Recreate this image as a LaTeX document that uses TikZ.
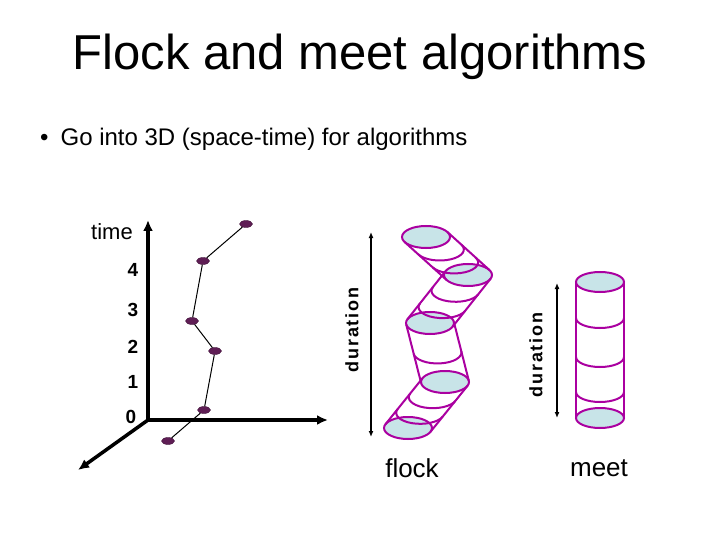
\documentclass[tikz,border=0pt]{standalone}
\usepackage{fontspec}
\setmainfont{Liberation Sans}
\usetikzlibrary{arrows.meta,shapes.geometric,calc}
\definecolor{mag}{RGB}{170,0,160}
\definecolor{capc}{RGB}{200,228,232}
\definecolor{dotc}{RGB}{95,30,85}
\begin{document}
\begin{tikzpicture}[x=1pt,y=-1pt,
  ax/.style={line width=3.5pt,-{Latex[length=11pt,width=10pt]}},
  traj/.style={line width=1pt},
  dot/.style={ellipse,fill=dotc,draw=dotc!70!black,minimum width=13pt,minimum height=7pt,inner sep=0pt},
  tube/.style={draw=mag,line width=2pt},
  capfill/.style={draw=mag,line width=2pt,fill=capc},
  num/.style={font=\fontsize{19}{19}\selectfont\bfseries},
  dur/.style={font=\fontsize{18}{18}\selectfont\bfseries\addfontfeatures{LetterSpace=10},rotate=90},
  darr/.style={line width=1.3pt,{Latex[length=6pt,width=5pt]}-{Latex[length=6pt,width=5pt]}}]
\useasboundingbox (0,0) rectangle (720,540);
\node (title) at (360,57) {\fontsize{49}{49}\selectfont Flock and meet algorithms};
\node[anchor=west,inner sep=0pt] (bullet) at (40,139) {\fontsize{24}{24}\selectfont •\hspace{12pt}Go into 3D (space-time) for algorithms};
% axes
\coordinate (o) at (148,420);
\coordinate (ty) at (148,220);
\coordinate (tx) at (328,420);
\coordinate (tz) at (78,470);
\draw[ax] (o) -- (ty);
\draw[ax] (o) -- (tx);
\draw[ax] (o) -- (tz);
\node (time) at (112,232) {\fontsize{22}{22}\selectfont time};
\node[num] (n4) at (133,270) {4};
\node[num] (n3) at (133,310) {3};
\node[num] (n2) at (133,347) {2};
\node[num] (n1) at (133,382) {1};
\node[num] (n0) at (131,417) {0};
% trajectory
\node[dot] (p5) at (246,224) {};
\node[dot] (p4) at (203,261) {};
\node[dot] (p3) at (192,321) {};
\node[dot] (p2) at (215,351) {};
\node[dot] (p1) at (204,410) {};
\node[dot] (p0) at (168,441) {};
\draw[traj] (p5)--(p4)--(p3)--(p2)--(p1)--(p0);
% flock
\draw[darr] (371,232) coordinate (fa) -- (371,437) coordinate (fb);
\node[dur] (fdur) at (352,330) {duration};
\def\rx{24}\def\ry{11}
\coordinate (e1) at (426,237);
\coordinate (e2) at (468,275);
\coordinate (e3) at (430,323);
\coordinate (e4) at (445,382);
\coordinate (e5) at (408,428);
% white bodies
\fill[white] ($(e1)+(21.4,-5)$) -- ($(e2)+(21.4,-5)$) -- ($(e2)-(21.4,-5)$) -- ($(e1)-(21.4,-5)$) -- cycle;
\fill[white] ($(e2)+(22.6,3.7)$) -- ($(e3)+(22.6,3.7)$) -- ($(e3)-(22.6,3.7)$) -- ($(e2)-(22.6,3.7)$) -- cycle;
\fill[white] ($(e3)+(23.8,-1.3)$) -- ($(e4)+(23.8,-1.3)$) -- ($(e4)-(23.8,-1.3)$) -- ($(e3)-(23.8,-1.3)$) -- cycle;
\fill[white] ($(e4)+(22.5,3.8)$) -- ($(e5)+(22.5,3.8)$) -- ($(e5)-(22.5,3.8)$) -- ($(e4)-(22.5,3.8)$) -- cycle;
% caps
\foreach \c in {e1,e2,e3,e4,e5}{\draw[capfill] (\c) ellipse [x radius=\rx,y radius=\ry];}
% segment 1
\foreach \f in {0.33,0.67}{\draw[tube] ($(e1)!\f!(e2)+(21.4,-5)$) arc[start angle=-26.9,end angle=153.1,x radius=\rx,y radius=\ry];}
\draw[tube] ($(e1)+(21.4,-5)$) -- ($(e2)+(21.4,-5)$);
\draw[tube] ($(e1)-(21.4,-5)$) -- ($(e2)-(21.4,-5)$);
% segment 2
\foreach \f in {0.33,0.67}{\draw[tube] ($(e2)!\f!(e3)+(22.6,3.7)$) arc[start angle=19.9,end angle=199.9,x radius=\rx,y radius=\ry];}
\draw[tube] ($(e2)+(22.6,3.7)$) -- ($(e3)+(22.6,3.7)$);
\draw[tube] ($(e2)-(22.6,3.7)$) -- ($(e3)-(22.6,3.7)$);
% segment 3
\draw[tube] ($(e3)!0.5!(e4)+(23.8,-1.3)$) arc[start angle=-6.6,end angle=173.4,x radius=\rx,y radius=\ry];
\draw[tube] ($(e3)+(23.8,-1.3)$) -- ($(e4)+(23.8,-1.3)$);
\draw[tube] ($(e3)-(23.8,-1.3)$) -- ($(e4)-(23.8,-1.3)$);
% segment 4
\foreach \f in {0.33,0.67}{\draw[tube] ($(e4)!\f!(e5)+(22.5,3.8)$) arc[start angle=20.2,end angle=200.2,x radius=\rx,y radius=\ry];}
\draw[tube] ($(e4)+(22.5,3.8)$) -- ($(e5)+(22.5,3.8)$);
\draw[tube] ($(e4)-(22.5,3.8)$) -- ($(e5)-(22.5,3.8)$);
\node (flock) at (412,468) {\fontsize{26}{26}\selectfont flock};
% meet
\draw[darr] (557,283) coordinate (ma) -- (557,418) coordinate (mb);
\node[dur] (mdur) at (536,355) {duration};
\coordinate (mt) at (600,282); \coordinate (mbot) at (600,418);
\fill[white] (576,282) rectangle (624,418);
\draw[capfill] (mbot) ellipse [x radius=\rx,y radius=10];
\foreach \yy in {318,357,392}{\draw[tube] (624,\yy) arc[start angle=0,end angle=180,x radius=\rx,y radius=10];}
\draw[tube] (624,282) -- (624,418);
\draw[tube] (576,282) -- (576,418);
\draw[capfill] (mt) ellipse [x radius=\rx,y radius=10];
\node (meet) at (599,468) {\fontsize{26}{26}\selectfont meet};
\end{tikzpicture}
\end{document}
